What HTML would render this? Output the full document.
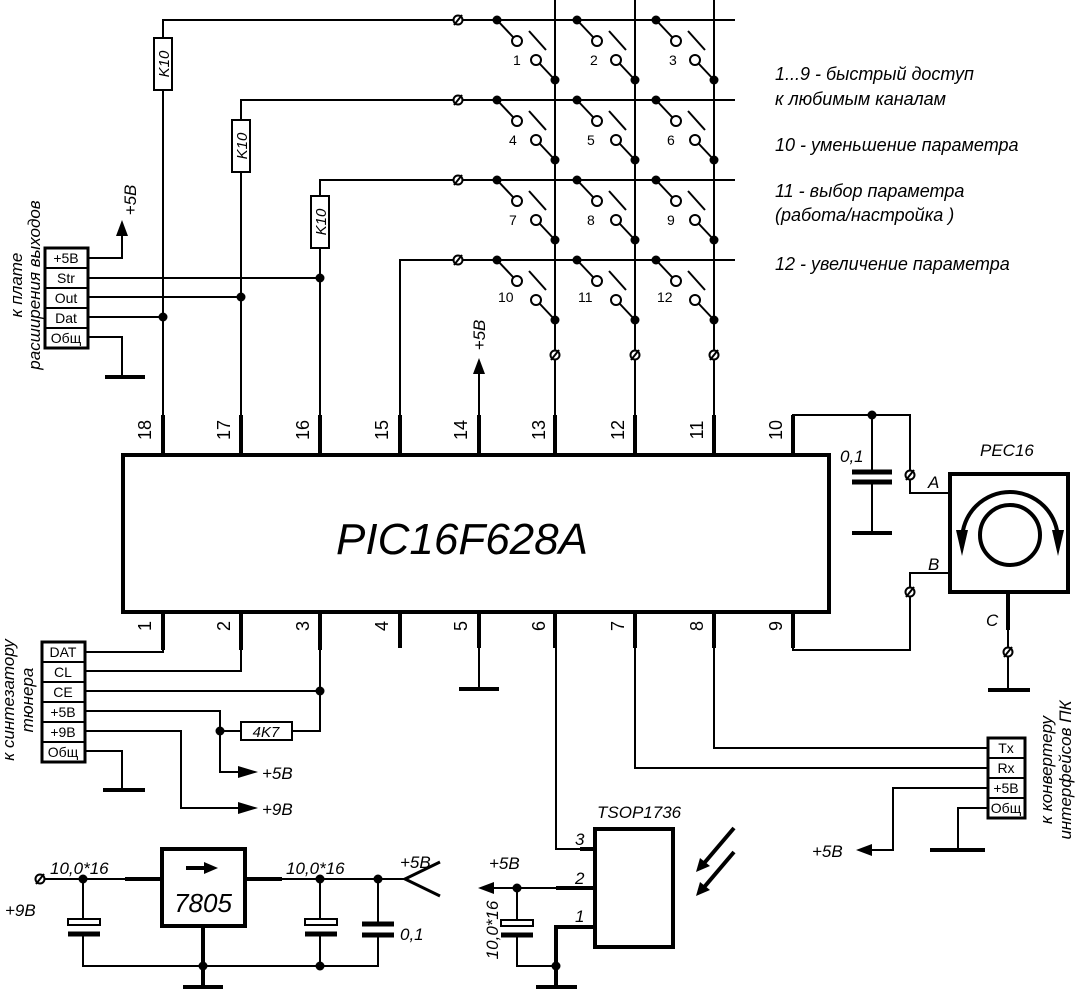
<!DOCTYPE html>
<html><head><meta charset="utf-8"><style>
body{margin:0;background:#fff}
svg{display:block}
text{font-family:"Liberation Sans",sans-serif;font-style:italic;fill:#000}
.u{font-style:normal}
</style></head><body>
<svg width="1076" height="991" viewBox="0 0 1076 991" xmlns="http://www.w3.org/2000/svg">
<defs>
<g id="sw" stroke="#000" stroke-width="2" fill="none">
<circle cx="-58" cy="0" r="4.5" fill="#000" stroke="none"/>
<line x1="-58" y1="0" x2="-42" y2="17"/>
<circle cx="-38" cy="21" r="5" fill="#fff"/>
<line x1="-26" y1="11" x2="-9" y2="30"/>
<circle cx="-19" cy="40" r="5" fill="#fff"/>
<line x1="-15" y1="44" x2="0" y2="60"/>
<circle cx="0" cy="60" r="4.5" fill="#000" stroke="none"/>
</g>
<g id="tm"><circle cx="0" cy="0" r="4.5" fill="#fff" stroke="#000" stroke-width="2"/><line x1="-4" y1="5" x2="4" y2="-5" stroke="#000" stroke-width="2"/></g>
</defs>
<g stroke="#000" stroke-width="2" fill="none">
<polyline points="163,420 163,20 735,20"/>
<polyline points="241,420 241,100 735,100"/>
<polyline points="320,420 320,180 735,180"/>
<polyline points="400,420 400,260 735,260"/>
<line x1="555" y1="0" x2="555" y2="420"/>
<line x1="635" y1="0" x2="635" y2="420"/>
<line x1="714" y1="0" x2="714" y2="420"/>
<rect x="154" y="38" width="18" height="52" fill="#fff"/>
<rect x="232" y="120" width="18" height="52" fill="#fff"/>
<rect x="311" y="196" width="18" height="52" fill="#fff"/>
<rect x="45" y="248" width="43" height="100" stroke-width="3" fill="#fff"/>
<line x1="45" y1="268" x2="88" y2="268"/><line x1="45" y1="288" x2="88" y2="288"/><line x1="45" y1="308" x2="88" y2="308"/><line x1="45" y1="328" x2="88" y2="328"/>
<polyline points="88,258 122,258 122,232"/>
<line x1="88" y1="278" x2="320" y2="278"/>
<line x1="88" y1="297" x2="241" y2="297"/>
<line x1="88" y1="317" x2="163" y2="317"/>
<polyline points="88,337 122,337 122,377"/>
<line x1="105" y1="377" x2="145" y2="377" stroke-width="4"/>
<line x1="479" y1="420" x2="479" y2="372"/>
<g stroke-width="4">
<line x1="163" y1="415" x2="163" y2="455"/><line x1="241" y1="415" x2="241" y2="455"/><line x1="320" y1="415" x2="320" y2="455"/><line x1="400" y1="415" x2="400" y2="455"/><line x1="479" y1="415" x2="479" y2="455"/><line x1="555" y1="415" x2="555" y2="455"/><line x1="635" y1="415" x2="635" y2="455"/><line x1="714" y1="415" x2="714" y2="455"/><line x1="793" y1="415" x2="793" y2="455"/>
<line x1="163" y1="612" x2="163" y2="650"/><line x1="241" y1="612" x2="241" y2="650"/><line x1="320" y1="612" x2="320" y2="650"/><line x1="400" y1="612" x2="400" y2="648"/><line x1="479" y1="612" x2="479" y2="648"/><line x1="555" y1="612" x2="555" y2="648"/><line x1="635" y1="612" x2="635" y2="648"/><line x1="714" y1="612" x2="714" y2="648"/><line x1="793" y1="612" x2="793" y2="648"/>
<rect x="123" y="455" width="706" height="157" fill="#fff"/>
<line x1="459" y1="689" x2="499" y2="689"/>
</g>
<line x1="479" y1="648" x2="479" y2="689"/>
<polyline points="793,420 793,415 910,415 910,470"/>
<polyline points="910,480 910,493 950,493"/>
<line x1="872" y1="415" x2="872" y2="472"/>
<line x1="852" y1="472" x2="892" y2="472" stroke-width="5"/>
<line x1="852" y1="482" x2="892" y2="482" stroke-width="5"/>
<line x1="872" y1="482" x2="872" y2="533"/>
<line x1="852" y1="533" x2="892" y2="533" stroke-width="4"/>
<polyline points="950,573 910,573 910,587"/>
<polyline points="910,597 910,650 793,650 793,648"/>
<rect x="950" y="474" width="118" height="118" stroke-width="4" fill="#fff"/>
<circle cx="1010" cy="535" r="30" stroke-width="4"/>
<path d="M962,540 A48,48 0 0 1 1058,540" stroke-width="4"/>
<line x1="1008" y1="592" x2="1008" y2="630" stroke-width="4"/>
<line x1="1008" y1="630" x2="1008" y2="690"/>
<line x1="988" y1="690" x2="1030" y2="690" stroke-width="4"/>
<rect x="42" y="642" width="43" height="120" stroke-width="3" fill="#fff"/>
<line x1="42" y1="662" x2="85" y2="662"/><line x1="42" y1="682" x2="85" y2="682"/><line x1="42" y1="702" x2="85" y2="702"/><line x1="42" y1="722" x2="85" y2="722"/><line x1="42" y1="742" x2="85" y2="742"/>
<polyline points="85,652 163,652 163,648"/>
<polyline points="85,671 241,671 241,648"/>
<polyline points="85,691 320,691 320,648"/>
<polyline points="85,711 220,711 220,772 240,772"/>
<line x1="220" y1="731" x2="241" y2="731"/>
<rect x="241" y="722" width="51" height="18" fill="#fff"/>
<polyline points="292,731 320,731 320,691"/>
<polyline points="85,731 181,731 181,808 240,808"/>
<polyline points="85,751 122,751 122,790"/>
<line x1="103" y1="790" x2="145" y2="790" stroke-width="4"/>
<!-- regulator -->
<line x1="44" y1="879" x2="125" y2="879"/>
<line x1="125" y1="879" x2="162" y2="879" stroke-width="4"/>
<rect x="162" y="849" width="83" height="77" stroke-width="4" fill="#fff"/>
<line x1="245" y1="879" x2="282" y2="879" stroke-width="4"/>
<line x1="282" y1="879" x2="405" y2="879"/>
<polyline points="440,862 405,879 440,896" stroke-width="3"/>
<line x1="83" y1="879" x2="83" y2="921"/>
<rect x="68" y="919" width="32" height="6" stroke-width="2" fill="#fff"/>
<line x1="68" y1="934" x2="100" y2="934" stroke-width="5"/>
<polyline points="83,934 83,966 378,966"/>
<line x1="203" y1="926" x2="203" y2="987" stroke-width="4"/>
<line x1="183" y1="987" x2="223" y2="987" stroke-width="4"/>
<line x1="320" y1="879" x2="320" y2="921"/>
<rect x="305" y="919" width="32" height="6" fill="#fff"/>
<line x1="305" y1="934" x2="337" y2="934" stroke-width="5"/>
<line x1="320" y1="934" x2="320" y2="966"/>
<line x1="378" y1="879" x2="378" y2="924"/>
<line x1="362" y1="924" x2="394" y2="924" stroke-width="5"/>
<line x1="362" y1="935" x2="394" y2="935" stroke-width="5"/>
<polyline points="378,935 378,966 320,966"/>
<!-- TSOP -->
<polyline points="556,648 556,849 580,849"/>
<line x1="580" y1="849" x2="595" y2="849" stroke-width="4"/>
<line x1="490" y1="888" x2="556" y2="888"/>
<line x1="556" y1="888" x2="595" y2="888" stroke-width="4"/>
<polyline points="595,927 556,927 556,985" stroke-width="4"/>
<line x1="536" y1="987" x2="577" y2="987" stroke-width="4"/>
<rect x="595" y="829" width="78" height="118" stroke-width="4" fill="#fff"/>
<line x1="517" y1="888" x2="517" y2="922"/>
<rect x="501" y="920" width="32" height="6" fill="#fff"/>
<line x1="501" y1="935" x2="533" y2="935" stroke-width="5"/>
<polyline points="517,935 517,966 556,966"/>
<line x1="734" y1="828" x2="700" y2="868" stroke-width="4"/>
<line x1="734" y1="852" x2="700" y2="892" stroke-width="4"/>
<polyline points="714,648 714,748 988,748"/>
<polyline points="635,648 635,768 988,768"/>
<polyline points="988,788 893,788 893,850 870,850"/>
<polyline points="988,808 958,808 958,850"/>
<line x1="930" y1="850" x2="985" y2="850" stroke-width="4"/>
<rect x="988" y="738" width="37" height="80" stroke-width="3" fill="#fff"/>
<line x1="988" y1="758" x2="1025" y2="758"/><line x1="988" y1="778" x2="1025" y2="778"/><line x1="988" y1="798" x2="1025" y2="798"/>
</g>
<g fill="#000">
<polygon points="122,220 116,236 128,236"/>
<polygon points="479,358 473,374 485,374"/>
<polygon points="258,772 238,766 238,778"/>
<polygon points="258,808 238,802 238,814"/>
<polygon points="478,888 494,882 494,894"/>
<polygon points="856,850 872,844 872,856"/>
<polygon points="696,872 700,858 710,866"/>
<polygon points="696,896 700,882 710,890"/>
<polygon points="218,868 204,862 204,874"/>
<rect x="186" y="866" width="20" height="4"/>
<polygon points="956,530 968,530 962,556"/>
<polygon points="1052,530 1064,530 1058,556"/>
<circle cx="163" cy="317" r="4.5"/><circle cx="241" cy="297" r="4.5"/><circle cx="320" cy="278" r="4.5"/>
<circle cx="872" cy="415" r="4.5"/>
<circle cx="320" cy="691" r="4.5"/><circle cx="220" cy="731" r="4.5"/>
<circle cx="83" cy="879" r="4.5"/><circle cx="320" cy="879" r="4.5"/><circle cx="378" cy="879" r="4.5"/>
<circle cx="203" cy="966" r="4.5"/><circle cx="320" cy="966" r="4.5"/>
<circle cx="517" cy="888" r="4.5"/><circle cx="556" cy="966" r="4.5"/>
</g>
<use href="#sw" x="555" y="20"/><use href="#sw" x="635" y="20"/><use href="#sw" x="714" y="20"/>
<use href="#sw" x="555" y="100"/><use href="#sw" x="635" y="100"/><use href="#sw" x="714" y="100"/>
<use href="#sw" x="555" y="180"/><use href="#sw" x="635" y="180"/><use href="#sw" x="714" y="180"/>
<use href="#sw" x="555" y="260"/><use href="#sw" x="635" y="260"/><use href="#sw" x="714" y="260"/>
<use href="#tm" x="458" y="20"/><use href="#tm" x="458" y="100"/><use href="#tm" x="458" y="180"/><use href="#tm" x="458" y="260"/>
<use href="#tm" x="555" y="355"/><use href="#tm" x="635" y="355"/><use href="#tm" x="714" y="355"/>
<use href="#tm" x="910" y="475"/><use href="#tm" x="910" y="592"/><use href="#tm" x="1008" y="652"/>
<use href="#tm" x="40" y="879"/>
<g font-size="14">
<text x="513" y="65" class="u">1</text><text x="590" y="65" class="u">2</text><text x="669" y="65" class="u">3</text>
<text x="509" y="145" class="u">4</text><text x="587" y="145" class="u">5</text><text x="667" y="145" class="u">6</text>
<text x="509" y="225" class="u">7</text><text x="587" y="225" class="u">8</text><text x="667" y="225" class="u">9</text>
<text x="498" y="302" class="u">10</text><text x="578" y="302" class="u">11</text><text x="657" y="302" class="u">12</text>
</g>
<g font-size="15">
<text transform="translate(169,64) rotate(-90)" text-anchor="middle">K10</text>
<text transform="translate(247,146) rotate(-90)" text-anchor="middle">K10</text>
<text transform="translate(326,222) rotate(-90)" text-anchor="middle">K10</text>
<text x="266" y="737" text-anchor="middle">4K7</text>
</g>
<g font-size="18">
<text class="u" transform="translate(151,430) rotate(-90)" text-anchor="middle">18</text>
<text class="u" transform="translate(230,430) rotate(-90)" text-anchor="middle">17</text>
<text class="u" transform="translate(309,430) rotate(-90)" text-anchor="middle">16</text>
<text class="u" transform="translate(388,430) rotate(-90)" text-anchor="middle">15</text>
<text class="u" transform="translate(467,430) rotate(-90)" text-anchor="middle">14</text>
<text class="u" transform="translate(545,430) rotate(-90)" text-anchor="middle">13</text>
<text class="u" transform="translate(624,430) rotate(-90)" text-anchor="middle">12</text>
<text class="u" transform="translate(703,430) rotate(-90)" text-anchor="middle">11</text>
<text class="u" transform="translate(782,430) rotate(-90)" text-anchor="middle">10</text>
<text class="u" transform="translate(151,626) rotate(-90)" text-anchor="middle">1</text>
<text class="u" transform="translate(230,626) rotate(-90)" text-anchor="middle">2</text>
<text class="u" transform="translate(309,626) rotate(-90)" text-anchor="middle">3</text>
<text class="u" transform="translate(388,626) rotate(-90)" text-anchor="middle">4</text>
<text class="u" transform="translate(467,626) rotate(-90)" text-anchor="middle">5</text>
<text class="u" transform="translate(545,626) rotate(-90)" text-anchor="middle">6</text>
<text class="u" transform="translate(624,626) rotate(-90)" text-anchor="middle">7</text>
<text class="u" transform="translate(703,626) rotate(-90)" text-anchor="middle">8</text>
<text class="u" transform="translate(782,626) rotate(-90)" text-anchor="middle">9</text>
</g>
<text x="462" y="554" font-size="44" text-anchor="middle">PIC16F628A</text>
<g font-size="14" text-anchor="middle">
<text class="u" x="66" y="263">+5B</text><text class="u" x="66" y="283">Str</text><text class="u" x="66" y="303">Out</text><text class="u" x="66" y="323">Dat</text><text class="u" x="66" y="343">Общ</text>
<text class="u" x="63" y="657">DAT</text><text class="u" x="63" y="677">CL</text><text class="u" x="63" y="697">CE</text><text class="u" x="63" y="717">+5B</text><text class="u" x="63" y="737">+9B</text><text class="u" x="63" y="757">Общ</text>
<text class="u" x="1006" y="753">Tx</text><text class="u" x="1006" y="773">Rx</text><text class="u" x="1006" y="793">+5B</text><text class="u" x="1006" y="813">Общ</text>
</g>
<g font-size="17">
<text transform="translate(136,200) rotate(-90)" text-anchor="middle">+5В</text>
<text transform="translate(485,335) rotate(-90)" text-anchor="middle">+5В</text>
<text transform="translate(22,285) rotate(-90)" text-anchor="middle">к плате</text>
<text transform="translate(40,285) rotate(-90)" text-anchor="middle">расширения выходов</text>
<text transform="translate(14,700) rotate(-90)" text-anchor="middle">к синтезатору</text>
<text transform="translate(33,700) rotate(-90)" text-anchor="middle">тюнера</text>
<text transform="translate(1052,770) rotate(-90)" text-anchor="middle">к конвертеру</text>
<text transform="translate(1071,770) rotate(-90)" text-anchor="middle">интерфейсов ПК</text>
<text transform="translate(498,930) rotate(-90)" text-anchor="middle">10,0*16</text>
<text x="262" y="779">+5В</text>
<text x="262" y="815">+9В</text>
<text x="5" y="916">+9В</text>
<text x="50" y="874">10,0*16</text>
<text x="286" y="874">10,0*16</text>
<text x="400" y="868">+5В</text>
<text x="400" y="940">0,1</text>
<text x="489" y="869">+5В</text>
<text x="812" y="857">+5В</text>
<text x="840" y="462">0,1</text>
<text x="928" y="488">A</text>
<text x="928" y="570">B</text>
<text x="986" y="626">C</text>
<text x="980" y="456">PEC16</text>
<text x="597" y="818">TSOP1736</text>
<text x="575" y="845">3</text><text x="575" y="884">2</text><text x="575" y="922">1</text>
<text x="203" y="912" font-size="26" text-anchor="middle">7805</text>
</g>
<g font-size="18">
<text x="775" y="80">1...9 - быстрый доступ</text>
<text x="775" y="105">к любимым каналам</text>
<text x="775" y="151">10 - уменьшение параметра</text>
<text x="775" y="197">11 - выбор параметра</text>
<text x="775" y="221">(работа/настройка )</text>
<text x="775" y="270">12 - увеличение параметра</text>
</g>
</svg>
</body></html>
